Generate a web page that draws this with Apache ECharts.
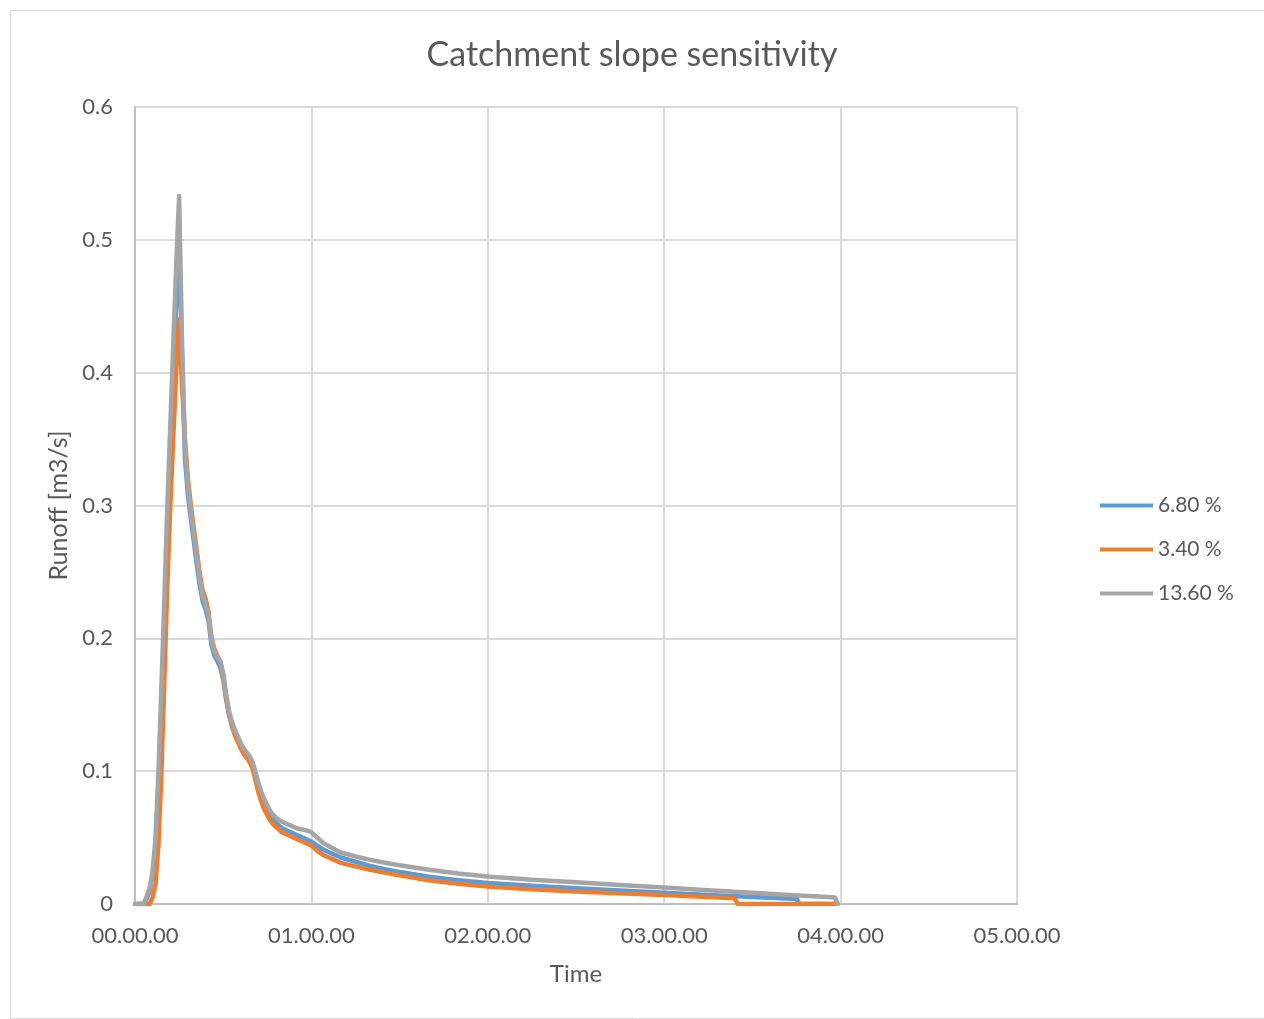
<!DOCTYPE html>
<html>
<head>
<meta charset="utf-8">
<script src="https://cdn.jsdelivr.net/npm/echarts@6/dist/echarts.min.js"></script>
<style>
html,body{margin:0;padding:0;background:#fff;}
#chart{width:1264px;height:1019px;}
</style>
</head>
<body>
<div id="chart"></div>
<script>
// Time in minutes since start
const times = [
  0,1,2,3,4,5,6,7,8,9,10,11,12,13,14,15,16,17,18,19,20,
  21,22,23,24,25,26,27,28,29,30,31,32,33,34,35,36,37,38,39,40,
  41,42,43,44,45,46,47,48,49,50,51,52,53,54,55,56,57,58,59,60,
  62,64,66,68,70,75,80,85,90,100,110,120,135,150,165,180,195,204,205,210,224,225,226,237,238,239
];
const slope680 = [
  0,0,0,0,0.004,0.010,0.022,0.045,0.090,0.150,0.210,0.280,0.340,0.400,0.450,0.500,0.410,0.335,0.308,0.290,0.273,
  0.256,0.240,0.228,0.222,0.213,0.195,0.187,0.183,0.178,0.169,0.154,0.142,0.134,0.128,0.123,0.118,0.114,0.111,0.108,0.104,
  0.095,0.086,0.079,0.074,0.069,0.066,0.063,0.061,0.059,0.057,0.056,0.055,0.054,0.053,0.052,0.051,0.050,0.049,0.048,0.047,
  0.044,0.041,0.039,0.037,0.035,0.0318,0.0287,0.0262,0.0241,0.0205,0.0178,0.0158,0.0137,0.0118,0.0101,0.0084,0.0068,0.0059,0.0058,0.0053,0.0040,0.0039,0,0,0,0
];
const slope340 = [
  0,0,0,0,0,0,0.005,0.015,0.045,0.100,0.170,0.240,0.300,0.350,0.400,0.440,0.390,0.350,0.320,0.300,0.283,
  0.266,0.249,0.236,0.230,0.220,0.201,0.192,0.187,0.182,0.172,0.155,0.143,0.134,0.127,0.122,0.117,0.113,0.110,0.107,0.102,
  0.093,0.084,0.077,0.071,0.067,0.063,0.060,0.058,0.056,0.054,0.053,0.052,0.051,0.050,0.049,0.048,0.047,0.046,0.045,0.044,
  0.040,0.037,0.035,0.033,0.031,0.0283,0.0258,0.0236,0.0216,0.0178,0.0152,0.0132,0.0111,0.0095,0.0081,0.0067,0.0052,0.0044,0,0,0,0,0,0,0,0
];
const slope1360 = [
  0,0,0,0,0.006,0.012,0.025,0.050,0.100,0.165,0.230,0.300,0.360,0.420,0.480,0.533,0.423,0.345,0.315,0.295,0.278,
  0.262,0.245,0.232,0.226,0.218,0.199,0.190,0.186,0.183,0.174,0.158,0.145,0.137,0.131,0.126,0.121,0.117,0.114,0.111,0.107,
  0.099,0.091,0.084,0.079,0.074,0.070,0.067,0.065,0.063,0.062,0.061,0.060,0.059,0.058,0.057,0.0565,0.056,0.0555,0.055,0.054,
  0.050,0.046,0.0435,0.041,0.0388,0.0358,0.0332,0.0311,0.0292,0.0258,0.0230,0.0207,0.0183,0.0163,0.0143,0.0124,0.0104,0.0092,0.0091,0.0084,0.0066,0.0065,0.0064,0.0050,0.0049,0
];
const seriesNames = ['6.80 %', '3.40 %', '13.60 %'];
const xTickLabels = ['00.00.00','01.00.00','02.00.00','03.00.00','04.00.00','05.00.00'];
const yTicks = [0, 0.1, 0.2, 0.3, 0.4, 0.5, 0.6];

const colors = ['#5B9BD5', '#ED7D31', '#A5A5A5'];
const seriesValues = [slope680, slope340, slope1360];
const txt = '#595959';
const font = 'Lato, "Open Sans", sans-serif';

const chart = echarts.init(document.getElementById('chart'));
chart.setOption({
  animation: false,
  backgroundColor: '#fff',
  color: colors,
  title: {
    text: 'Catchment slope sensitivity',
    left: 'center',
    top: 33,
    textStyle: {color: txt, fontSize: 34, fontWeight: 'normal', fontFamily: font}
  },
  graphic: [{
    type: 'rect', left: 8, top: 8, z: -1,
    shape: {width: 1254, height: 1008},
    style: {fill: 'none', stroke: '#d9d9d9', lineWidth: 1}
  }],
  legend: {
    orient: 'vertical',
    left: 1095,
    top: 490,
    itemWidth: 53,
    itemHeight: 4,
    itemGap: 23,
    textStyle: {color: txt, fontSize: 21, fontFamily: font, padding: [0,0,0,0]},
    data: seriesNames.map((n, i) => ({name: n, icon: 'path://M0,0 L53,0 L53,4 L0,4 Z'}))
  },
  grid: {left: 135, right: 247, top: 107, bottom: 115, containLabel: false},
  xAxis: {
    type: 'value',
    min: 0, max: 300, interval: 60,
    name: 'Time',
    nameLocation: 'middle',
    nameGap: 58,
    nameTextStyle: {color: txt, fontSize: 24, fontFamily: font},
    axisLine: {show: true, lineStyle: {color: '#bfbfbf', width: 2}},
    axisTick: {show: false},
    axisLabel: {
      color: txt, fontSize: 22, fontFamily: font, margin: 21,
      formatter: v => xTickLabels[Math.round(v / 60)]
    },
    splitLine: {show: true, lineStyle: {color: '#d9d9d9', width: 2}}
  },
  yAxis: {
    type: 'value',
    min: 0, max: 0.6, interval: 0.1,
    name: 'Runoff [m3/s]',
    nameLocation: 'middle',
    nameGap: 63,
    nameTextStyle: {color: txt, fontSize: 25, fontFamily: font},
    axisLine: {show: true, lineStyle: {color: '#bfbfbf', width: 2}},
    axisTick: {show: false},
    axisLabel: {
      color: txt, fontSize: 22, fontFamily: font, margin: 22,
      formatter: v => { const i = yTicks.findIndex(t => Math.abs(t - v) < 1e-9); return i >= 0 ? String(yTicks[i]) : ''; }
    },
    splitLine: {show: true, lineStyle: {color: '#d9d9d9', width: 2}}
  },
  series: seriesNames.map((n, i) => ({
    name: n,
    type: 'line',
    showSymbol: false,
    symbol: 'none',
    smooth: false,
    lineStyle: {width: 4.5, color: colors[i], cap: 'round', join: 'round'},
    data: times.map((t, k) => [t, seriesValues[i][k]])
  }))
});
</script>
</body>
</html>
